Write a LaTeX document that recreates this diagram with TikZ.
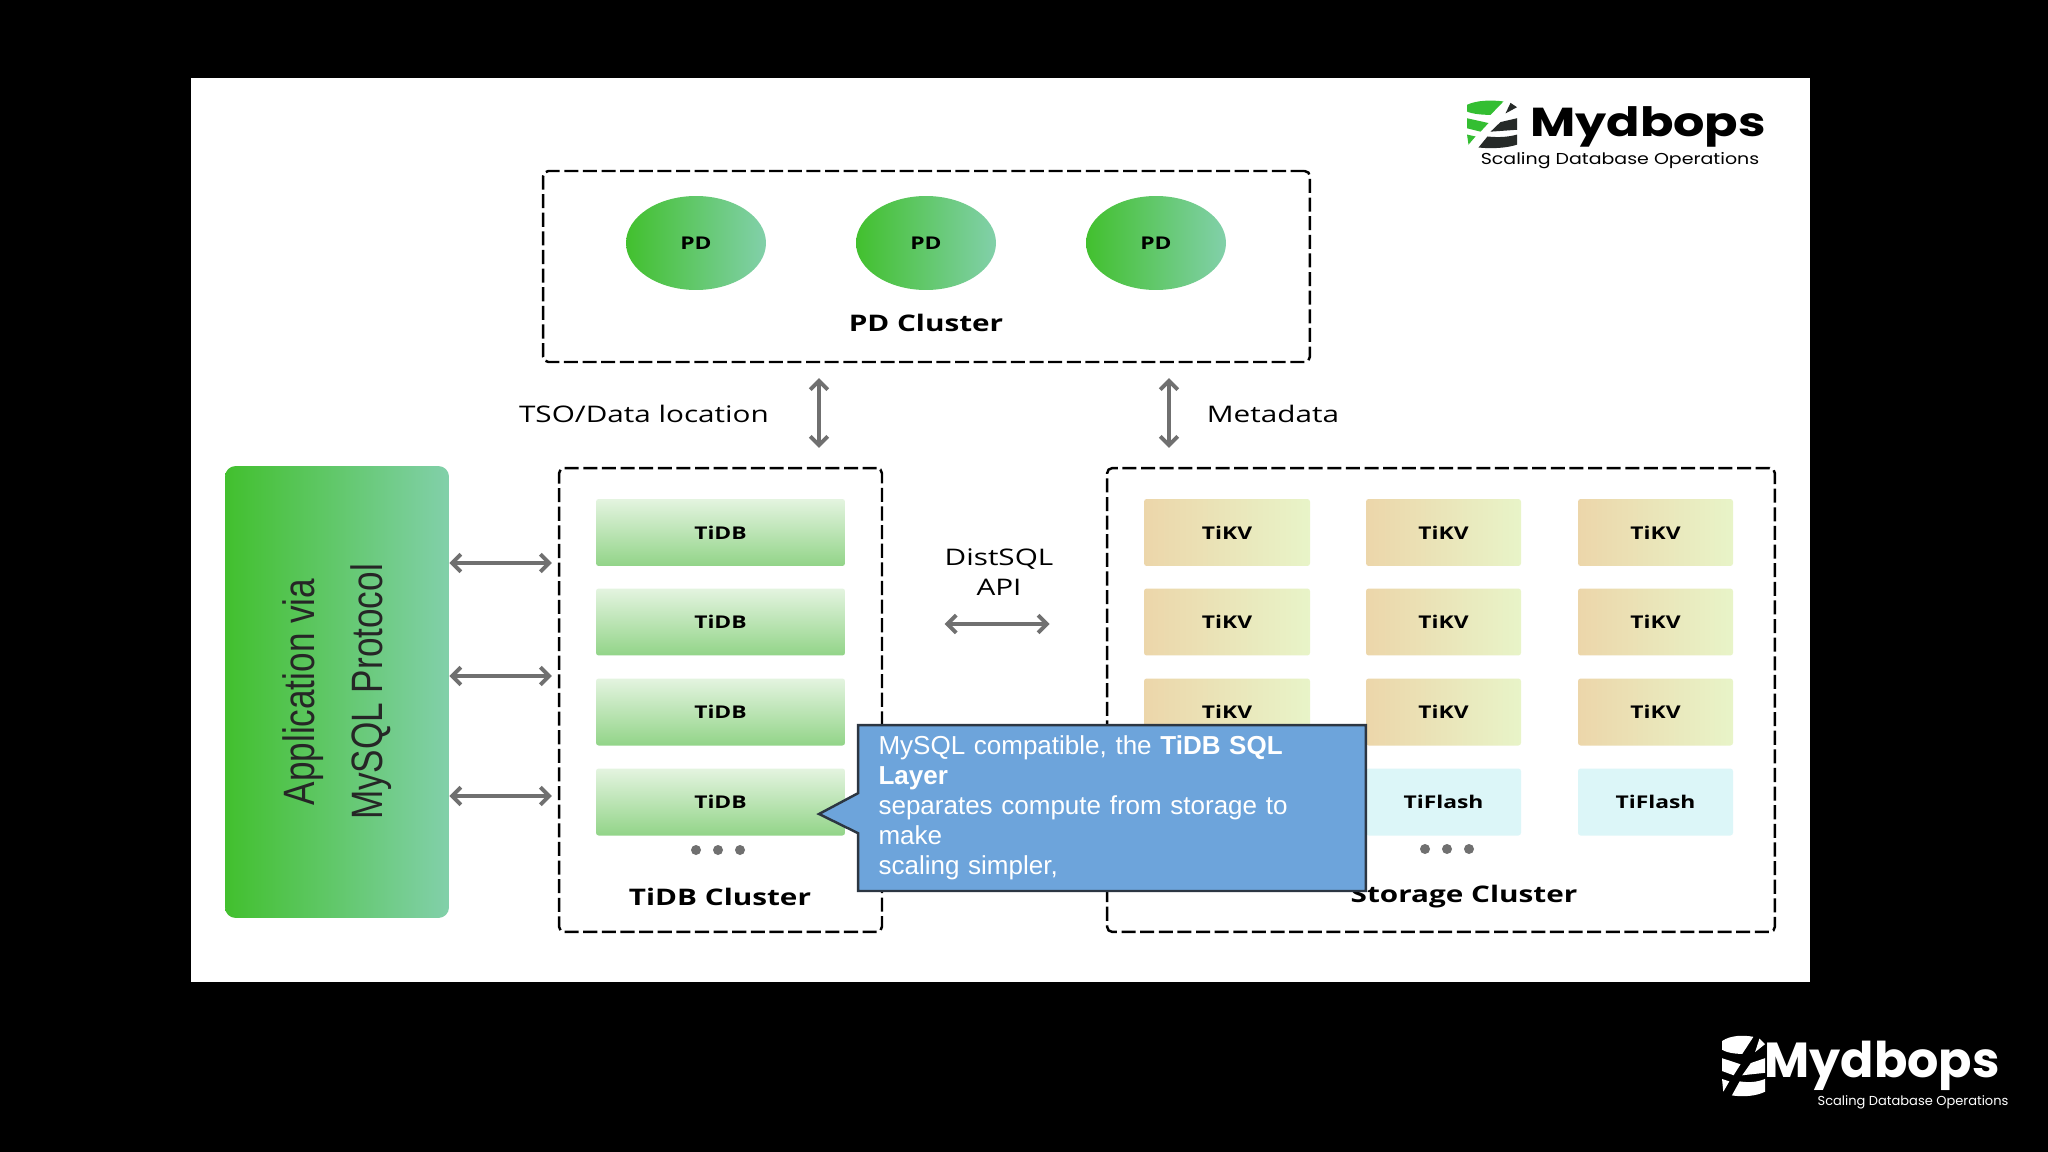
\documentclass[tikz,border=0pt]{standalone}
\usepackage{fontspec}
\usepackage{tikz}
\usetikzlibrary{arrows.meta,shapes.callouts,shapes.geometric}
\setmainfont{Open Sans}
\newfontfamily\arialfont{Liberation Sans}
\newfontfamily\logofont{Poppins}

\definecolor{appleft}{RGB}{66,192,46}
\definecolor{appright}{RGB}{130,208,170}
\definecolor{tidbtop}{RGB}{228,244,224}
\definecolor{tidbbot}{RGB}{146,212,136}
\definecolor{tikvleft}{RGB}{236,214,170}
\definecolor{tikvright}{RGB}{232,244,200}
\definecolor{flashfill}{RGB}{220,246,248}
\definecolor{arrowgray}{RGB}{112,112,112}
\definecolor{noteblue}{RGB}{109,164,219}
\definecolor{noteline}{RGB}{44,54,66}
\definecolor{logogreen}{RGB}{52,190,50}
\definecolor{logodark}{RGB}{38,42,40}

\newcommand{\wide}[1]{\scalebox{1.3}[1]{#1}}
\newcommand{\dbicon}[6]{%
\begin{scope}[shift={(#1,-#2)},xscale=#3,yscale=-#4]
\fill [#5] (0,.1) .. controls (.2,0) and (.5,0) .. (.73,.03) -- (.47,.31) .. controls (.3,.31) and (.1,.29) .. (0,.24) -- cycle;
\fill [#6] (.87,.06) -- (1,.15) -- (.77,.28) -- cycle;
\fill [#5] (0,.38) -- (.43,.48) -- (.27,.66) -- (0,.59) -- cycle;
\fill [#6] (1,.38) -- (.67,.46) -- (.47,.66) -- (1,.62) -- cycle;
\fill [#5] (0,.72) -- (.17,.76) -- (.03,.93) -- cycle;
\fill [#6] (1,.72) .. controls (.8,.78) and (.6,.78) .. (.41,.76) -- (.23,.99) .. controls (.5,1.02) and (.8,1) .. (1,.93) -- cycle;
\end{scope}}

\tikzset{
  cluster/.style={draw=black,line width=1.4pt,dash pattern=on 8pt off 2.6pt,rounded corners=3pt,inner sep=0pt},
  pdnode/.style={ellipse,left color=appleft,right color=appright,minimum width=2.8cm,minimum height=1.88cm,inner sep=0pt,font=\fontsize{10}{12}\selectfont\bfseries},
  tidbnode/.style={rounded corners=1.5pt,top color=tidbtop,bottom color=tidbbot,minimum width=4.98cm,minimum height=1.34cm,inner sep=0pt,font=\fontsize{10}{12}\selectfont\bfseries},
  tikvnode/.style={rounded corners=1.5pt,left color=tikvleft,right color=tikvright,minimum height=1.34cm,inner sep=0pt,font=\fontsize{10}{12}\selectfont\bfseries},
  flashnode/.style={rounded corners=1.5pt,fill=flashfill,minimum height=1.34cm,inner sep=0pt,font=\fontsize{10}{12}\selectfont\bfseries},
  clusterlabel/.style={inner sep=0pt,font=\fontsize{13}{15}\selectfont\bfseries},
  flowlabel/.style={inner sep=0pt,align=center,font=\fontsize{13}{17.5}\selectfont},
  biarrow/.style={draw=arrowgray,line width=2.2pt,{Straight Barb[length=5pt,width=10pt]}-{Straight Barb[length=5pt,width=10pt]}},
  moredot/.style={circle,fill=arrowgray,minimum size=.2cm,inner sep=0pt},
}

\begin{document}
\begin{tikzpicture}[x=0.02cm,y=0.02cm]
\useasboundingbox (0,0) rectangle (2048,-1152);
\fill [black] (0,0) rectangle (2048,-1152);
\fill [white] (191,-78) rectangle (1810,-982);

% logos
\dbicon{1467}{100}{50}{48}{logogreen}{logodark}
\node [inner sep=0pt] (logoname) at (1648,-127) {\scalebox{1.22}[1]{\logofont\fontsize{23}{25}\selectfont\bfseries Mydbops}};
\node [inner sep=0pt] (logotag) at (1620,-161) {\scalebox{1.2}[1]{\logofont\fontsize{9}{11}\selectfont Scaling Database Operations}};
\dbicon{1722}{1035}{43}{61}{white}{white}
\node [inner sep=0pt,text=white] (footname) at (1882,-1066) {\logofont\fontsize{28}{30}\selectfont\bfseries Mydbops};
\node [inner sep=0pt,text=white] (foottag) at (1913,-1102) {\logofont\fontsize{7.4}{9}\selectfont Scaling Database Operations};

% PD cluster
\node [cluster,minimum width=15.34cm,minimum height=3.82cm] (pdcluster) at (926.5,-266.5) {};
\foreach \i/\x in {1/696,2/926,3/1156}
  \node [pdnode] (pd\i) at (\x,-243) {\wide{PD}};
\node [clusterlabel] (pdlabel) at (926,-323) {\wide{PD Cluster}};

% application
\node [rounded corners=6pt,left color=appleft,right color=appright,minimum width=4.48cm,minimum height=9.04cm,inner sep=0pt] (app) at (337,-692) {};
\node [rotate=90,xscale=.8,inner sep=0pt,align=center,text=black!85,font=\arialfont\fontsize{25}{38.5}\selectfont] (applabel) at (337,-692) {Application via\\MySQL Protocol};

% TiDB cluster
\node [cluster,minimum width=6.46cm,minimum height=9.28cm] (tidbcluster) at (720.5,-700) {};
\foreach \i/\y in {1/532.5,2/622,3/712,4/802}
  \node [tidbnode] (tidb\i) at (720.5,-\y) {\wide{TiDB}};
\foreach \i/\x in {1/696,2/718,3/740}
  \node [moredot] (tidbdot\i) at (\x,-850) {};
\node [clusterlabel] (tidblabel) at (720,-897) {\wide{TiDB Cluster}};

% storage cluster
\node [cluster,minimum width=13.36cm,minimum height=9.28cm] (storage) at (1441,-700) {};
\foreach \r/\y in {1/532.5,2/622,3/712} {
  \node [tikvnode,minimum width=3.32cm] (tikv\r a) at (1227,-\y) {\wide{TiKV}};
  \node [tikvnode,minimum width=3.1cm] (tikv\r b) at (1443.5,-\y) {\wide{TiKV}};
  \node [tikvnode,minimum width=3.1cm] (tikv\r c) at (1655.5,-\y) {\wide{TiKV}};
}
\node [flashnode,minimum width=3.1cm] (flashb) at (1443.5,-802) {\wide{TiFlash}};
\node [flashnode,minimum width=3.1cm] (flashc) at (1655.5,-802) {\wide{TiFlash}};
\foreach \i/\x in {1/1425,2/1447,3/1469}
  \node [moredot] (storedot\i) at (\x,-849) {};
\node [clusterlabel] (storelabel) at (1464,-897) {\wide{Storage Cluster}};

% arrows
\draw [biarrow,shorten <=8.5pt,shorten >=10.8pt] (pdcluster.south -| 819,0) -- (tidbcluster.north -| 819,0);
\draw [biarrow,shorten <=8.5pt,shorten >=10.8pt] (pdcluster.south -| 1169,0) -- (storage.north -| 1169,0);
\foreach \y in {563,676,796}
  \draw [biarrow,shorten >=3.4pt] (app.east |- 0,-\y) -- (tidbcluster.west |- 0,-\y);
\draw [biarrow,shorten <=35pt,shorten >=32pt] (tidbcluster.east |- 0,-624) -- (storage.west |- 0,-624);
\node [flowlabel] (tsolabel) at (644,-414) {\wide{TSO/Data location}};
\node [flowlabel] (metalabel) at (1273,-414) {\wide{Metadata}};
\node [flowlabel] (distlabel) at (999,-572) {\wide{DistSQL}\\\wide{API}};

% note on top
\coordinate (notetip) at (819,-814);
\node [rectangle callout,callout absolute pointer={(notetip)},callout pointer width=.8cm,draw=noteline,line width=1.4pt,fill=noteblue,text=white,minimum width=10.16cm,minimum height=3.32cm,text width=9.34cm,align=left,inner sep=0pt,font=\arialfont\fontsize{14.8}{17}\selectfont] (note) at (1112,-808)
  {MySQL compatible, the \textbf{TiDB SQL Layer}\\separates compute from storage to make\\scaling simpler,};
\end{tikzpicture}
\end{document}
